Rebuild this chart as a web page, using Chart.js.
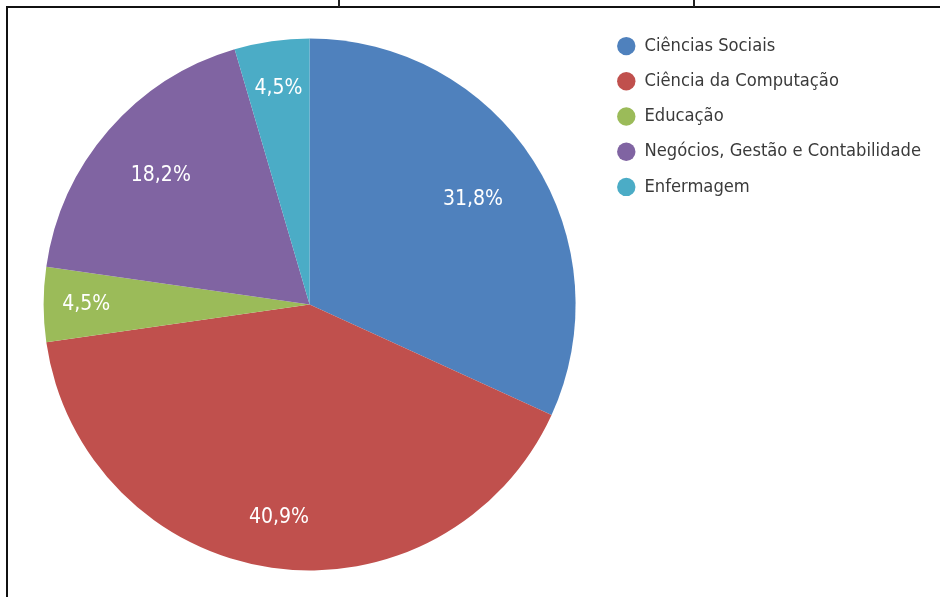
<!DOCTYPE html>
<html>
<head>
<meta charset="utf-8">
<script src="https://cdn.jsdelivr.net/npm/chart.js@4.4.0/dist/chart.umd.min.js"></script>
<style>
  html, body { margin: 0; padding: 0; background: #fff; overflow: hidden; }
  #wrap { position: relative; width: 940px; height: 597px; }
  #frame { position: absolute; left: 6px; top: 6px; width: 960px; height: 620px;
           border-top: 2px solid #111; border-left: 2px solid #111; }
  .tick { position: absolute; top: 0; width: 2px; height: 7px; background: #222; }
  canvas { position: absolute; left: 0; top: 0; }
</style>
</head>
<body>
<div id="wrap">
  <div id="frame"></div>
  <div class="tick" style="left:338px"></div>
  <div class="tick" style="left:693px"></div>
  <canvas id="pie" width="940" height="597"></canvas>
</div>
<script>
'use strict';

// ---- Data ----
const AREAS  = ['Ciências Sociais', 'Ciência da Computação', 'Educação',
                'Negócios, Gestão e Contabilidade', 'Enfermagem'];
const COUNTS = [7, 9, 1, 4, 1];
const COLORS = ['#4F81BD', '#C0504D', '#9BBB59', '#8064A2', '#4BACC6'];

const FONT = '"DejaVu Sans Condensed", "DejaVu Sans", Tahoma, sans-serif';

// label distance from centre, as a fraction of the radius (Excel "best fit" look)
const LABEL_POS = [0.73, 0.81, 0.84, 0.74, 0.82];

// ---- Percent labels inside slices ----
const sliceLabels = {
  id: 'sliceLabels',
  afterDatasetsDraw(chart) {
    const ctx = chart.ctx;
    const meta = chart.getDatasetMeta(0);
    const data = chart.data.datasets[0].data;
    const total = data.reduce((a, b) => a + b, 0);
    ctx.save();
    ctx.font = '21px ' + FONT;
    ctx.fillStyle = '#ffffff';
    ctx.textAlign = 'center';
    ctx.textBaseline = 'middle';
    meta.data.forEach((arc, i) => {
      const mid = (arc.startAngle + arc.endAngle) / 2;
      const r = arc.outerRadius * LABEL_POS[i];
      const pct = (data[i] / total * 100).toFixed(1).replace('.', ',') + '%';
      ctx.fillText(pct, arc.x + Math.cos(mid) * r, arc.y + Math.sin(mid) * r);
    });
    ctx.restore();
  }
};

new Chart(document.getElementById('pie'), {
  type: 'pie',
  data: {
    labels: AREAS,
    datasets: [{
      data: COUNTS,
      backgroundColor: COLORS,
      borderWidth: 0,
      radius: 266,
    }]
  },
  options: {
    responsive: false,
    animation: false,
    layout: { padding: { left: 19, right: 9, top: 20, bottom: 8 } },
    plugins: {
      legend: {
        position: 'right',
        align: 'start',
        labels: {
          usePointStyle: true,
          pointStyle: 'circle',
          boxWidth: 18.2,
          boxHeight: 13,
          padding: 17,
          color: '#3a3a3a',
          font: { size: 18.2, family: FONT },
        }
      },
      tooltip: { enabled: false },
    }
  },
  plugins: [sliceLabels]
});
</script>
</body>
</html>
